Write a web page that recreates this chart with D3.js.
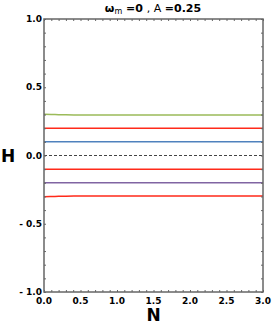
<!DOCTYPE html>
<html>
<head>
<meta charset="utf-8">
<script src="https://cdn.jsdelivr.net/npm/d3@7"></script>
<style>
  body { margin: 0; background: #fff; }
  svg { font-family: "DejaVu Sans", sans-serif; }
</style>
</head>
<body>
<div id="chart"></div>
<script>
// sample points along N
var nValues = [0, 0.1, 0.2, 0.3, 0.5, 0.75, 1.0, 1.5, 2.0, 2.5, 3.0];
var greenH  = [0.302, 0.301, 0.299, 0.298, 0.297, 0.296, 0.296, 0.296, 0.296, 0.296, 0.296];
var red1H   = [0.2, 0.2, 0.2, 0.2, 0.2, 0.2, 0.2, 0.2, 0.2, 0.2, 0.2];
var blueH   = [0.1, 0.1, 0.1, 0.1, 0.1, 0.1, 0.1, 0.1, 0.1, 0.1, 0.1];
var red2H   = [-0.1, -0.1, -0.1, -0.1, -0.1, -0.1, -0.1, -0.1, -0.1, -0.1, -0.1];
var purpleH = [-0.2, -0.2, -0.2, -0.2, -0.2, -0.2, -0.2, -0.2, -0.2, -0.2, -0.2];
var red3H   = [-0.302, -0.301, -0.299, -0.298, -0.297, -0.296, -0.296, -0.296, -0.296, -0.296, -0.296];
var xTicks = [0, 0.5, 1.0, 1.5, 2.0, 2.5, 3.0];
var yTicks = [-1.0, -0.5, 0.0, 0.5, 1.0];

var series = [
  {vals: greenH, color: '#9bbb59'},
  {vals: red1H, color: '#ff2a1a'},
  {vals: blueH, color: '#4f81bd'},
  {vals: red2H, color: '#ff2a1a'},
  {vals: purpleH, color: '#8064a2'},
  {vals: red3H, color: '#ff2a1a'}
];

var width = 273, height = 327,
    margins = {left: 44, right: 10, top: 19, bottom: 35};

var svg = d3.select('#chart').append('svg')
    .attr('width', width).attr('height', height);

var x = d3.scaleLinear().domain([0, 3]).range([margins.left, width - margins.right]);
var y = d3.scaleLinear().domain([-1, 1]).range([height - margins.bottom, margins.top]);

var axisColor = '#666';

// zero line, dashed
svg.append('line')
    .attr('x1', x(0)).attr('x2', x(3))
    .attr('y1', y(0)).attr('y2', y(0))
    .attr('stroke', '#444').attr('stroke-width', 1)
    .attr('stroke-dasharray', '3,2');

var line = d3.line()
    .x(function(d, i) { return x(nValues[i]); })
    .y(function(d) { return y(d); })
    .curve(d3.curveMonotoneX);

svg.selectAll('path.series').data(series).enter().append('path')
    .attr('class', 'series')
    .attr('d', function(d) { return line(d.vals); })
    .attr('fill', 'none')
    .attr('stroke', function(d) { return d.color; })
    .attr('stroke-width', 1.5);

// minor ticks on all sides
var minorX = d3.range(0, 3.001, 0.1), minorY = d3.range(-1, 1.001, 0.1);
function ticksOn(g, axis, scale, vals, len) {
  g.call(axis(scale).tickValues(vals).tickSize(len).tickFormat(''))
   .call(function(s) { s.select('.domain').remove(); s.selectAll('line').attr('stroke', axisColor); });
}
ticksOn(svg.append('g').attr('transform', 'translate(0,' + y(-1) + ')'), d3.axisTop, x, minorX, 2);
ticksOn(svg.append('g').attr('transform', 'translate(0,' + y(1) + ')'), d3.axisBottom, x, minorX, 2);
ticksOn(svg.append('g').attr('transform', 'translate(' + x(0) + ',0)'), d3.axisRight, y, minorY, 2);
ticksOn(svg.append('g').attr('transform', 'translate(' + x(3) + ',0)'), d3.axisLeft, y, minorY, 2);

// frame
svg.append('rect')
    .attr('x', x(0)).attr('y', y(1))
    .attr('width', x(3) - x(0)).attr('height', y(-1) - y(1))
    .attr('fill', 'none').attr('stroke', axisColor).attr('stroke-width', 1.5);

// tick labels
svg.selectAll('text.xt').data(xTicks).enter().append('text')
    .attr('class', 'xt')
    .attr('x', function(d) { return x(d); })
    .attr('y', y(-1) + 12)
    .attr('text-anchor', 'middle')
    .attr('font-size', 9).attr('font-weight', 'bold')
    .text(function(d) { return d.toFixed(1); });

svg.selectAll('text.yt').data(yTicks).enter().append('text')
    .attr('class', 'yt')
    .attr('x', x(0) - 2)
    .attr('y', function(d) { return y(d) + 3; })
    .attr('text-anchor', 'end')
    .attr('font-size', 9).attr('font-weight', 'bold')
    .text(function(d) { return (d < 0 ? '- ' : '') + Math.abs(d).toFixed(1); });

// axis titles
svg.append('text')
    .attr('x', (x(0) + x(3)) / 2).attr('y', 321)
    .attr('text-anchor', 'middle')
    .attr('font-size', 17).attr('font-weight', 'bold')
    .text('N');

svg.append('text')
    .attr('x', 1).attr('y', y(0) + 6)
    .attr('font-size', 17).attr('font-weight', 'bold')
    .text('H');

// title
var title = svg.append('text')
    .attr('x', 153).attr('y', 12)
    .attr('text-anchor', 'middle')
    .attr('font-size', 11);
title.append('tspan').attr('font-weight', 'bold').text('ω');
title.append('tspan').attr('font-size', 8).attr('dy', 2).text('m');
title.append('tspan').attr('font-weight', 'bold').attr('dy', -2).text(' =0 ');
title.append('tspan').text(', A ');
title.append('tspan').attr('font-weight', 'bold').text('=0.25');
</script>
</body>
</html>
